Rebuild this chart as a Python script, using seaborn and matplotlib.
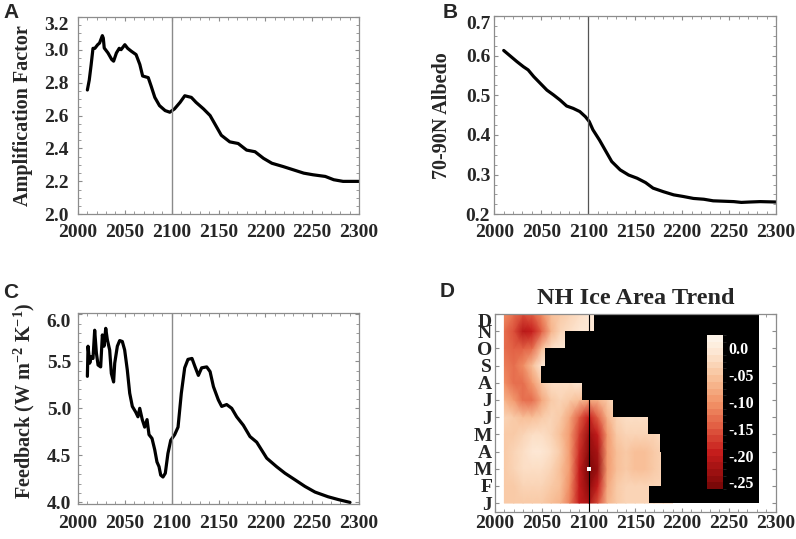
import numpy as np
import matplotlib
matplotlib.use("Agg")
import matplotlib.pyplot as plt
import seaborn as sns
from matplotlib.colors import LinearSegmentedColormap, BoundaryNorm
from matplotlib.ticker import MultipleLocator

# panel A: amplification factor
amp_year = [2010, 2012, 2014, 2016, 2018, 2021, 2023, 2026, 2027, 2028, 2032, 2036,
            2038, 2041, 2044, 2046, 2050, 2053, 2057, 2062, 2066, 2069, 2075, 2078,
            2082, 2087, 2093, 2098, 2103, 2109, 2114, 2121, 2126, 2134, 2141, 2146,
            2153, 2162, 2171, 2180, 2189, 2198, 2207, 2219, 2230, 2241, 2251, 2264,
            2273, 2283, 2300]
amp_val = [2.755, 2.815, 2.907, 3.008, 3.008, 3.03, 3.04, 3.085, 3.07, 3.01, 2.98, 2.94,
           2.93, 2.98, 3.008, 3.00, 3.03, 3.008, 2.99, 2.97, 2.91, 2.84, 2.83, 2.78,
           2.71, 2.66, 2.63, 2.62, 2.64, 2.68, 2.72, 2.71, 2.68, 2.64, 2.60, 2.55,
           2.48, 2.44, 2.43, 2.39, 2.38, 2.34, 2.31, 2.29, 2.27, 2.25, 2.24, 2.23,
           2.21, 2.20, 2.20]

# panel B: 70-90N albedo
alb_year = [2010, 2017, 2024, 2031, 2036, 2042, 2049, 2056, 2063, 2070, 2077, 2084,
            2091, 2097, 2101, 2105, 2112, 2118, 2125, 2134, 2143, 2152, 2161, 2169,
            2180, 2191, 2201, 2212, 2223, 2233, 2244, 2255, 2263, 2272, 2283, 2300]
alb_val = [0.613, 0.599, 0.585, 0.572, 0.564, 0.547, 0.530, 0.513, 0.501, 0.488, 0.473, 0.467,
           0.459, 0.446, 0.434, 0.413, 0.387, 0.362, 0.333, 0.312, 0.299, 0.291, 0.280, 0.266,
           0.257, 0.249, 0.245, 0.240, 0.238, 0.234, 0.233, 0.232, 0.230, 0.231, 0.232, 0.231]

# panel C: feedback
fb_year = [2010, 2010.7, 2012.5, 2014.2, 2016, 2017.8, 2019.6, 2021.4, 2024.2, 2026, 2027.8,
           2029.6, 2031.3, 2033.8, 2035.6, 2038, 2039.2, 2042, 2044.5, 2047.3, 2049.8, 2052.6,
           2055.2, 2058, 2061.6, 2064, 2065.9, 2068.6, 2071.2, 2073.7, 2075.8, 2079, 2081.9,
           2084.3, 2086.5, 2088.3, 2090.7, 2093.2, 2096, 2099, 2103.2, 2106.8, 2110.3, 2113.9,
           2117.4, 2121.7, 2125, 2128.5, 2132, 2137.4, 2141, 2144.6, 2149.8, 2153.4, 2158.7,
           2164.1, 2169.4, 2176.5, 2183.6, 2190.8, 2201.5, 2212, 2221, 2231.7, 2242.3, 2253,
           2267, 2278, 2290.4]
fb_val = [5.34, 5.66, 5.48, 5.55, 5.53, 5.83, 5.59, 5.46, 5.44, 5.78, 5.66,
          5.85, 5.73, 5.62, 5.37, 5.28, 5.48, 5.66, 5.72, 5.71, 5.62, 5.41,
          5.16, 5.02, 4.96, 4.91, 5.00, 4.88, 4.80, 4.88, 4.72, 4.68, 4.56,
          4.43, 4.38, 4.29, 4.27, 4.31, 4.52, 4.66, 4.72, 4.80, 5.16, 5.43,
          5.52, 5.53, 5.44, 5.35, 5.43, 5.44, 5.39, 5.23, 5.09, 5.02, 5.04,
          5.00, 4.91, 4.82, 4.70, 4.64, 4.47, 4.38, 4.31, 4.24, 4.17, 4.11,
          4.06, 4.03, 4.00]

# panel D: NH ice area trend, months x years
trend_year = [2010, 2020, 2030, 2040, 2050, 2060, 2070, 2080, 2090, 2100,
              2110, 2120, 2130, 2140, 2150, 2160, 2170, 2180, 2190]
months = [1, 2, 3, 4, 5, 6, 7, 8, 9, 10, 11, 12]
month_labels = ['J', 'F', 'M', 'A', 'M', 'J', 'J', 'A', 'S', 'O', 'N', 'D']
trend_jan = [-.04, -.04, -.04, -.04, -.04, -.05, -.07, -.12, -.19, -.22, -.16, -.07, -.04, -.03, -.03, -.03, -.03, -.03, -.03]
trend_feb = [-.04, -.04, -.03, -.03, -.03, -.04, -.06, -.11, -.20, -.25, -.20, -.08, -.04, -.03, -.03, -.03, -.03, -.03, -.03]
trend_mar = [-.04, -.03, -.02, -.02, -.02, -.03, -.05, -.10, -.20, -.26, -.23, -.10, -.05, -.04, -.05, -.05, -.04, -.03, -.03]
trend_apr = [-.04, -.03, -.02, -.01, -.01, -.02, -.04, -.09, -.18, -.25, -.22, -.10, -.05, -.04, -.05, -.05, -.04, -.03, -.03]
trend_may = [-.04, -.04, -.03, -.02, -.02, -.03, -.05, -.09, -.17, -.23, -.20, -.09, -.04, -.03, -.03, -.03, -.03, -.02, -.02]
trend_jun = [-.03, -.04, -.05, -.05, -.04, -.03, -.04, -.08, -.15, -.19, -.15, -.07, -.03, -.02, -.02, -.02, -.02, -.02, -.02]
trend_jul = [-.07, -.10, -.13, -.13, -.08, -.04, -.03, -.04, -.06, -.08, -.07, -.04, -.02, -.02, -.02, -.02, -.02, -.02, -.02]
trend_aug = [-.11, -.13, -.13, -.10, -.04, -.02, -.02, -.02, -.01, -.01, -.01, -.01, -.01, -.01, -.01, -.01, -.01, -.01, -.01]
trend_sep = [-.12, -.13, -.11, -.05, -.01, -.01, -.01, -.01, -.01, -.01, -.01, -.01, -.01, -.01, -.01, -.01, -.01, -.01, -.01]
trend_oct = [-.13, -.14, -.15, -.13, -.05, -.02, -.01, -.01, -.01, -.01, -.01, -.01, -.01, -.01, -.01, -.01, -.01, -.01, -.01]
trend_nov = [-.13, -.16, -.21, -.20, -.14, -.07, -.03, -.02, -.01, -.01, -.01, -.01, -.01, -.01, -.01, -.01, -.01, -.01, -.01]
trend_dec = [-.11, -.13, -.16, -.15, -.11, -.06, -.04, -.03, -.02, -.01, -.01, -.01, -.01, -.01, -.01, -.01, -.01, -.01, -.01]
# year from which each month band (J-F ... N-D) is ice free
ice_free_start = [2165, 2178, 2178, 2176, 2164, 2126, 2093, 2049, 2053, 2075, 2106]
ice_grid_end = 2282
max_trend_year, max_trend_month = 2101, 3

cbar_ticks = [0.0, -0.05, -0.10, -0.15, -0.20, -0.25]
cbar_labels = ['0.0', '-.05', '-.10', '-.15', '-.20', '-.25']

sns.set_style("ticks")
plt.rcParams['font.family'] = ['Liberation Serif', 'DejaVu Serif']
plt.rcParams['font.weight'] = 'bold'
plt.rcParams['axes.labelweight'] = 'bold'
plt.rcParams['axes.titleweight'] = 'bold'
plt.rcParams['mathtext.fontset'] = 'custom'
plt.rcParams['mathtext.rm'] = 'Liberation Serif:bold'
plt.rcParams['mathtext.default'] = 'rm'

fig = plt.figure(figsize=(7.96, 5.39), dpi=100)
ax_a = fig.add_axes([0.098, 0.6024, 0.353, 0.3666])
ax_b = fig.add_axes([0.621, 0.6024, 0.354, 0.368])
ax_c = fig.add_axes([0.098, 0.0644, 0.353, 0.3544])
ax_d = fig.add_axes([0.6219, 0.0507, 0.3524, 0.3668])

frame = '#8c8c8c'


def style(ax, xpad, ypad):
    ax.tick_params(which='both', direction='in', top=True, right=True,
                   color=frame, labelsize=14)
    ax.tick_params(which='major', length=3, width=0.8)
    ax.tick_params(which='minor', length=2, width=0.6)
    ax.tick_params(axis='x', pad=xpad)
    ax.tick_params(axis='y', pad=ypad)
    for s in ax.spines.values():
        s.set_color(frame)
        s.set_linewidth(0.9)
    ax.set_xlim(2000, 2300)
    ax.set_xticks(range(2000, 2301, 50))
    ax.xaxis.set_minor_locator(MultipleLocator(10))


# A
sns.lineplot(x=amp_year, y=amp_val, ax=ax_a, color='black', lw=2.3)
ax_a.axvline(2100, color='#8a8a8a', lw=1)
style(ax_a, 7, 7)
ax_a.set_ylim(2.0, 3.2)
ax_a.set_yticks(np.round(np.arange(2.0, 3.21, 0.2), 1))
ax_a.yaxis.set_minor_locator(MultipleLocator(0.05))
ax_a.set_ylabel('Amplification Factor', fontsize=14.5)
ax_a.yaxis.set_label_coords(-0.16, 0.5)

# B
sns.lineplot(x=alb_year, y=alb_val, ax=ax_b, color='black', lw=2.3)
ax_b.axvline(2100, color='#555555', lw=0.9)
style(ax_b, 7, 3)
ax_b.set_ylim(0.2, 0.7)
ax_b.set_yticks(np.round(np.arange(0.2, 0.71, 0.1), 1))
ax_b.yaxis.set_minor_locator(MultipleLocator(0.025))
ax_b.set_ylabel('70-90N Albedo', fontsize=14.5)
ax_b.yaxis.set_label_coords(-0.151, 0.5)

# C
sns.lineplot(x=fb_year, y=fb_val, ax=ax_c, color='black', lw=2.3)
ax_c.axvline(2100, color='#8a8a8a', lw=1)
style(ax_c, 8, 5)
ax_c.set_ylim(3.98, 6.01)
ax_c.set_yticks([4.0, 4.5, 5.0, 5.5, 6.0])
ax_c.yaxis.set_minor_locator(MultipleLocator(0.1))
ax_c.set_ylabel('Feedback (W m$^{-2}$ K$^{-1}$)', fontsize=14.5)
ax_c.yaxis.set_label_coords(-0.147, 0.54)

# D
trend = np.array([trend_jan, trend_feb, trend_mar, trend_apr, trend_may, trend_jun,
                  trend_jul, trend_aug, trend_sep, trend_oct, trend_nov, trend_dec])
cmap = LinearSegmentedColormap.from_list('ice', [
    (0.0, '#7a0808'), (0.043, '#8c0c0c'), (0.217, '#c41b1b'), (0.391, '#e05a40'),
    (0.565, '#f29468'), (0.739, '#f8c39c'), (0.913, '#fde9d6'), (1.0, '#fdf3e8')])
levels = np.linspace(-0.2625, 0.025, 24)
norm = BoundaryNorm(levels, cmap.N)
mesh = ax_d.pcolormesh(trend_year, months, trend, cmap=cmap, norm=norm,
                       shading='gouraud', rasterized=True)
band_mid = np.array(months[:-1]) + 0.5
ax_d.barh(band_mid, ice_grid_end - np.array(ice_free_start), left=ice_free_start,
          height=1.0, color='black', linewidth=0)
ax_d.axvline(2100, color='black', lw=0.8)
ax_d.scatter([max_trend_year], [max_trend_month], s=8, marker='s', color='white',
             linewidths=0, zorder=5)
style(ax_d, 2.5, 2)
ax_d.set_ylim(0.5, 12)
ax_d.set_yticks(months, labels=month_labels)
ax_d.tick_params(axis='y', which='major', length=3)
ax_d.set_title('NH Ice Area Trend', fontsize=17.5, pad=7)

cax = fig.add_axes([0.8882, 0.0928, 0.0201, 0.2857])
cb = fig.colorbar(mesh, cax=cax, ticks=cbar_ticks)
cb.set_ticklabels(cbar_labels)
cb.outline.set_visible(False)
cax.tick_params(length=0, labelcolor='white', labelsize=11.5, pad=4)
cb.ax.set_ylim(-0.2625, 0.025)

for lbl, x, y in [('A', 3, 3), ('B', 443, 3), ('C', 3, 283), ('D', 440, 282)]:
    fig.text(x / 796, 1 - y / 539, lbl, ha='left', va='top', fontsize=15,
             family='Liberation Sans', weight='bold')

fig.canvas.draw()
for ax in (ax_a, ax_b, ax_c, ax_d):
    ax.get_yticklabels()[-1].set_va('top')

fig.savefig('out.png', dpi=100)
